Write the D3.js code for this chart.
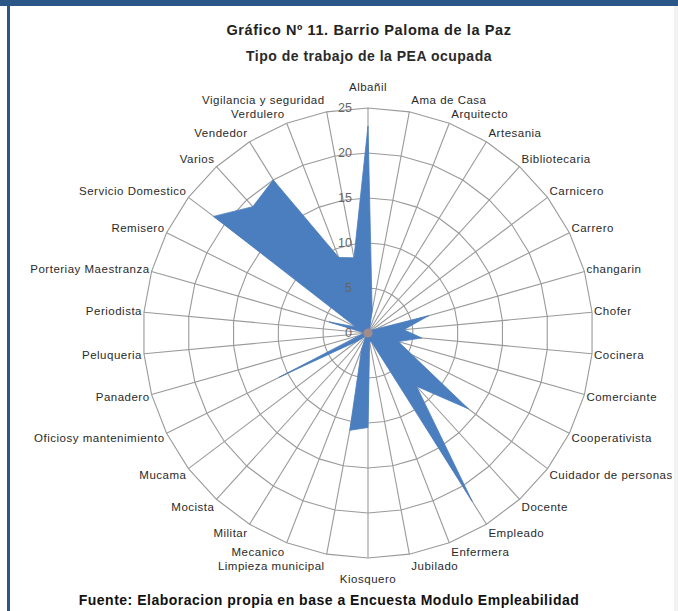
<!DOCTYPE html>
<html>
<head>
<meta charset="utf-8">
<script src="https://cdn.jsdelivr.net/npm/d3@7"></script>
<style>
  body { margin: 0; background: #fff; }
  svg { display: block; }
  text { font-family: "Liberation Sans", Arial, sans-serif; }
</style>
</head>
<body>
<svg width="678" height="611"></svg>
<script>
// job types, clockwise from the top
const categories = [
  "Albañil", "Ama de Casa", "Arquitecto", "Artesania", "Bibliotecaria", "Carnicero",
  "Carrero", "changarin", "Chofer", "Cocinera", "Comerciante", "Cooperativista",
  "Cuidador de personas", "Docente", "Empleado", "Enfermera", "Jubilado", "Kiosquero",
  "Limpieza municipal", "Mecanico", "Militar", "Mocista", "Mucama", "Oficiosy mantenimiento",
  "Panadero", "Peluqueria", "Periodista", "Porteriay Maestranza", "Remisero",
  "Servicio Domestico", "Varios", "Vendedor", "Verdulero", "Vigilancia y seguridad"
];
const values = [
  23, 2.5, 0.5, 0.5, 0.5, 0.5,
  1, 7, 4, 6, 3.5, 5.5,
  14, 8, 22, 1, 1, 10.5,
  11, 2, 0.5, 0.5, 1.5, 11,
  1, 0.5, 0.5, 4.5, 1.5,
  21.5, 19, 20, 9, 8.5
];
const tickValues = [0, 5, 10, 15, 20, 25];

const svg = d3.select("svg");
const cx = 368, cy = 333, R = 225;
const n = categories.length;

// frame of the scanned page
svg.append("rect").attr("x", 0).attr("y", 0).attr("width", 678).attr("height", 6).attr("fill", "#2b5688");
svg.append("rect").attr("x", 7).attr("y", 0).attr("width", 3).attr("height", 611).attr("fill", "#2b5688");
svg.append("rect").attr("x", 674).attr("y", 6).attr("width", 4).attr("height", 605).attr("fill", "#f2f2f2");

svg.append("text")
  .attr("x", cx + 1).attr("y", 35)
  .attr("text-anchor", "middle")
  .attr("font-size", 14.5).attr("font-weight", "bold").attr("fill", "#222")
  .attr("letter-spacing", 0.6)
  .text("Gráfico Nº 11. Barrio Paloma de la Paz");
svg.append("text")
  .attr("x", cx + 1).attr("y", 61)
  .attr("text-anchor", "middle")
  .attr("font-size", 14).attr("font-weight", "bold").attr("fill", "#2a2a2a")
  .attr("letter-spacing", 0.5)
  .text("Tipo de trabajo de la PEA ocupada");

const angle = d3.scaleLinear().domain([0, n]).range([0, 2 * Math.PI]);
const rScale = d3.scaleLinear().domain([0, 25]).range([0, R]);

const g = svg.append("g").attr("transform", "translate(" + cx + "," + cy + ")");

// grid polygons
const ring = d3.lineRadial()
  .angle((d, i) => angle(i))
  .radius(d => rScale(d))
  .curve(d3.curveLinearClosed);

tickValues.filter(t => t > 0).forEach(t => {
  g.append("path")
    .attr("d", ring(categories.map(() => t)))
    .attr("fill", "none")
    .attr("stroke", "#9a9a9a")
    .attr("stroke-width", 1.1);
});

// spokes
g.selectAll("line.spoke")
  .data(categories)
  .enter()
  .append("line")
  .attr("class", "spoke")
  .attr("x1", 0).attr("y1", 0)
  .attr("x2", (d, i) => rScale(25) * Math.sin(angle(i)))
  .attr("y2", (d, i) => -rScale(25) * Math.cos(angle(i)))
  .attr("stroke", "#9a9a9a")
  .attr("stroke-width", 1.1);

// the filled series
g.append("path")
  .attr("d", ring(values))
  .attr("fill", "#4a7ebf")
  .attr("stroke", "#4a7ebf")
  .attr("stroke-width", 0.8)
  .attr("stroke-linejoin", "miter");

g.append("circle")
  .attr("cx", 0).attr("cy", -rScale(0))
  .attr("r", 4.5)
  .attr("fill", "#b8907e")
  .attr("opacity", 0.8);

// radial axis labels
g.selectAll("text.tick")
  .data(tickValues)
  .enter()
  .append("text")
  .attr("class", "tick")
  .attr("x", -16)
  .attr("y", d => -rScale(d))
  .attr("dy", "0.35em")
  .attr("text-anchor", "end")
  .attr("font-size", 12.5)
  .attr("fill", "#666")
  .text(d => d);

// category labels
g.selectAll("text.cat")
  .data(categories)
  .enter()
  .append("text")
  .attr("class", "cat")
  .attr("x", (d, i) => {
    const s = Math.sin(angle(i));
    const dx = Math.abs(s) < 0.05 ? 0 : (s > 0 ? 2 : -2);
    return rScale(25) * s + dx;
  })
  .attr("y", (d, i) => {
    const s = Math.sin(angle(i)), c = Math.cos(angle(i));
    let off = 10;
    if (Math.abs(s) < 0.05) off = 21;
    else if (Math.abs(c) > 0.95) off = 12.5;  // keep the near-vertical pairs apart
    return -rScale(25) * c - c * off;
  })
  .attr("dy", "0.35em")
  .attr("text-anchor", (d, i) => {
    const s = Math.sin(angle(i));
    return Math.abs(s) < 0.05 ? "middle" : (s > 0 ? "start" : "end");
  })
  .attr("font-size", 11.5)
  .attr("letter-spacing", 0.5)
  .attr("fill", "#2a2a2a")
  .text(d => d);

svg.append("text")
  .attr("x", 329).attr("y", 605)
  .attr("text-anchor", "middle")
  .attr("font-size", 14).attr("font-weight", "bold").attr("fill", "#111")
  .attr("letter-spacing", 0.5)
  .text("Fuente: Elaboracion propia en base a Encuesta Modulo Empleabilidad");
</script>
</body>
</html>
